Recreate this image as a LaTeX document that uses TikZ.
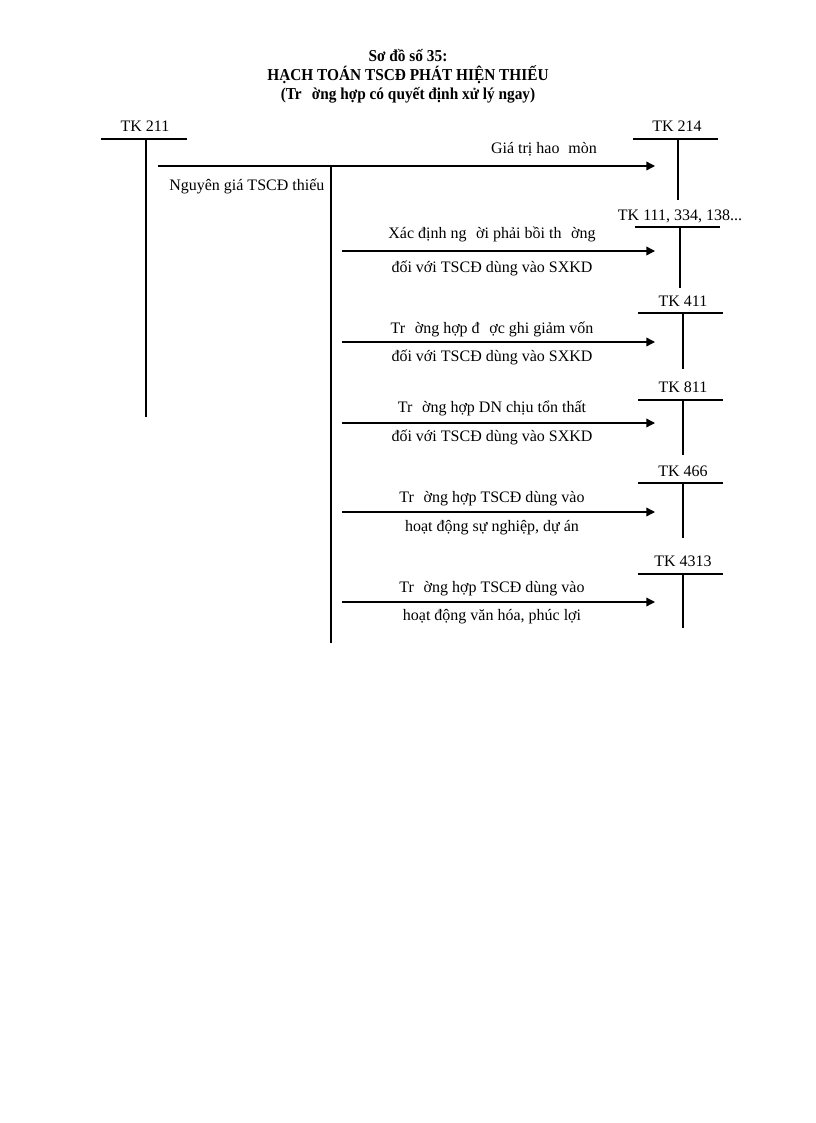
\documentclass[tikz,border=0pt]{standalone}
\usepackage{fontspec}
\setmainfont{Liberation Serif}
\newfontfamily\ttlfont[FakeStretch=0.92]{Liberation Serif}
\usetikzlibrary{arrows.meta}
\begin{document}
\begin{tikzpicture}[x=0.75pt,y=-0.75pt,
  tline/.style={line width=0.9pt},
  vline/.style={line width=0.8pt},
  flow/.style={line width=1pt,-{Triangle[length=6.5pt,width=6.5pt]}},
  lbl/.style={font=\fontsize{12}{14}\selectfont,inner sep=0pt},
  ttl/.style={font=\ttlfont\fontsize{12.5}{14}\selectfont\bfseries,inner sep=0pt}]
\useasboundingbox (0,0) rectangle (816,1123);
% titles
\node[ttl] (t1) at (408,56) {Sơ đồ số 35:};
\node[ttl] (t2) at (408,75) {HẠCH TOÁN TSCĐ PHÁT HIỆN THIẾU};
\node[ttl] (t3) at (408,95) {(Tr\hspace{0.6em}ờng hợp có quyết định xử lý ngay)};
% TK 211
\node[lbl] (k211) at (145,126) {TK 211};
\coordinate (k211l) at (101,139); \coordinate (k211r) at (187,139);
\coordinate (k211t) at (146,139); \coordinate (k211b) at (146,417);
\draw[tline] (k211l) -- (k211r);
\draw[vline] (k211t) -- (k211b);
% TK 214
\node[lbl] (k214) at (677,126) {TK 214};
\coordinate (k214l) at (633,139); \coordinate (k214r) at (718,139);
\coordinate (k214t) at (678,139); \coordinate (k214b) at (678,200);
\draw[tline] (k214l) -- (k214r);
\draw[vline] (k214t) -- (k214b);
% TK 111
\node[lbl] (k111) at (680,216) {TK 111, 334, 138...};
\coordinate (k111l) at (635,227); \coordinate (k111r) at (720,227);
\coordinate (k111t) at (680,227); \coordinate (k111b) at (680,288);
\draw[tline] (k111l) -- (k111r);
\draw[vline] (k111t) -- (k111b);
% TK 411
\node[lbl] (k411) at (683,301) {TK 411};
\coordinate (k411l) at (638,313); \coordinate (k411r) at (723,313);
\coordinate (k411t) at (683,313); \coordinate (k411b) at (683,369);
\draw[tline] (k411l) -- (k411r);
\draw[vline] (k411t) -- (k411b);
% TK 811
\node[lbl] (k811) at (683,387) {TK 811};
\coordinate (k811l) at (638,400); \coordinate (k811r) at (723,400);
\coordinate (k811t) at (683,400); \coordinate (k811b) at (683,455);
\draw[tline] (k811l) -- (k811r);
\draw[vline] (k811t) -- (k811b);
% TK 466
\node[lbl] (k466) at (683,471) {TK 466};
\coordinate (k466l) at (638,483); \coordinate (k466r) at (723,483);
\coordinate (k466t) at (683,483); \coordinate (k466b) at (683,538);
\draw[tline] (k466l) -- (k466r);
\draw[vline] (k466t) -- (k466b);
% TK 4313
\node[lbl] (k4313) at (683,561) {TK 4313};
\coordinate (k4313l) at (638,574); \coordinate (k4313r) at (723,574);
\coordinate (k4313t) at (683,574); \coordinate (k4313b) at (683,628);
\draw[tline] (k4313l) -- (k4313r);
\draw[vline] (k4313t) -- (k4313b);
% main flow
\coordinate (a0) at (158,166); \coordinate (a1) at (655,166);
\draw[flow] (a0) -- (a1);
\node[lbl,anchor=east] (lgt) at (597,149) {Giá trị hao\hspace{0.3em} mòn};
\node[lbl,anchor=west] (lng) at (169,186) {Nguyên giá TSCĐ thiếu};
% middle vertical
\coordinate (m0) at (331,166); \coordinate (m1) at (331,643);
\draw[vline] (m0) -- (m1);
% branch arrows
\coordinate (b1s) at (342,251); \coordinate (b1e) at (655,251);
\draw[flow] (b1s) -- (b1e);
\node[lbl] (l1a) at (492,234) {Xác định ng\hspace{0.6em}ời phải bồi th\hspace{0.6em}ờng};
\node[lbl] (l1b) at (492,268) {đối với TSCĐ dùng vào SXKD};
\coordinate (b2s) at (342,342); \coordinate (b2e) at (655,342);
\draw[flow] (b2s) -- (b2e);
\node[lbl] (l2a) at (492,329) {Tr\hspace{0.6em}ờng hợp đ\hspace{0.6em}ợc ghi giảm vốn};
\node[lbl] (l2b) at (492,357) {đối với TSCĐ dùng vào SXKD};
\coordinate (b3s) at (342,423); \coordinate (b3e) at (655,423);
\draw[flow] (b3s) -- (b3e);
\node[lbl] (l3a) at (492,408) {Tr\hspace{0.6em}ờng hợp DN chịu tổn thất};
\node[lbl] (l3b) at (492,437) {đối với TSCĐ dùng vào SXKD};
\coordinate (b4s) at (342,512); \coordinate (b4e) at (655,512);
\draw[flow] (b4s) -- (b4e);
\node[lbl] (l4a) at (492,499) {Tr\hspace{0.6em}ờng hợp TSCĐ dùng vào};
\node[lbl] (l4b) at (492,528) {hoạt động sự nghiệp, dự án};
\coordinate (b5s) at (342,602); \coordinate (b5e) at (655,602);
\draw[flow] (b5s) -- (b5e);
\node[lbl] (l5a) at (492,589) {Tr\hspace{0.6em}ờng hợp TSCĐ dùng vào};
\node[lbl] (l5b) at (492,617) {hoạt động văn hóa, phúc lợi};
\end{tikzpicture}
\end{document}
